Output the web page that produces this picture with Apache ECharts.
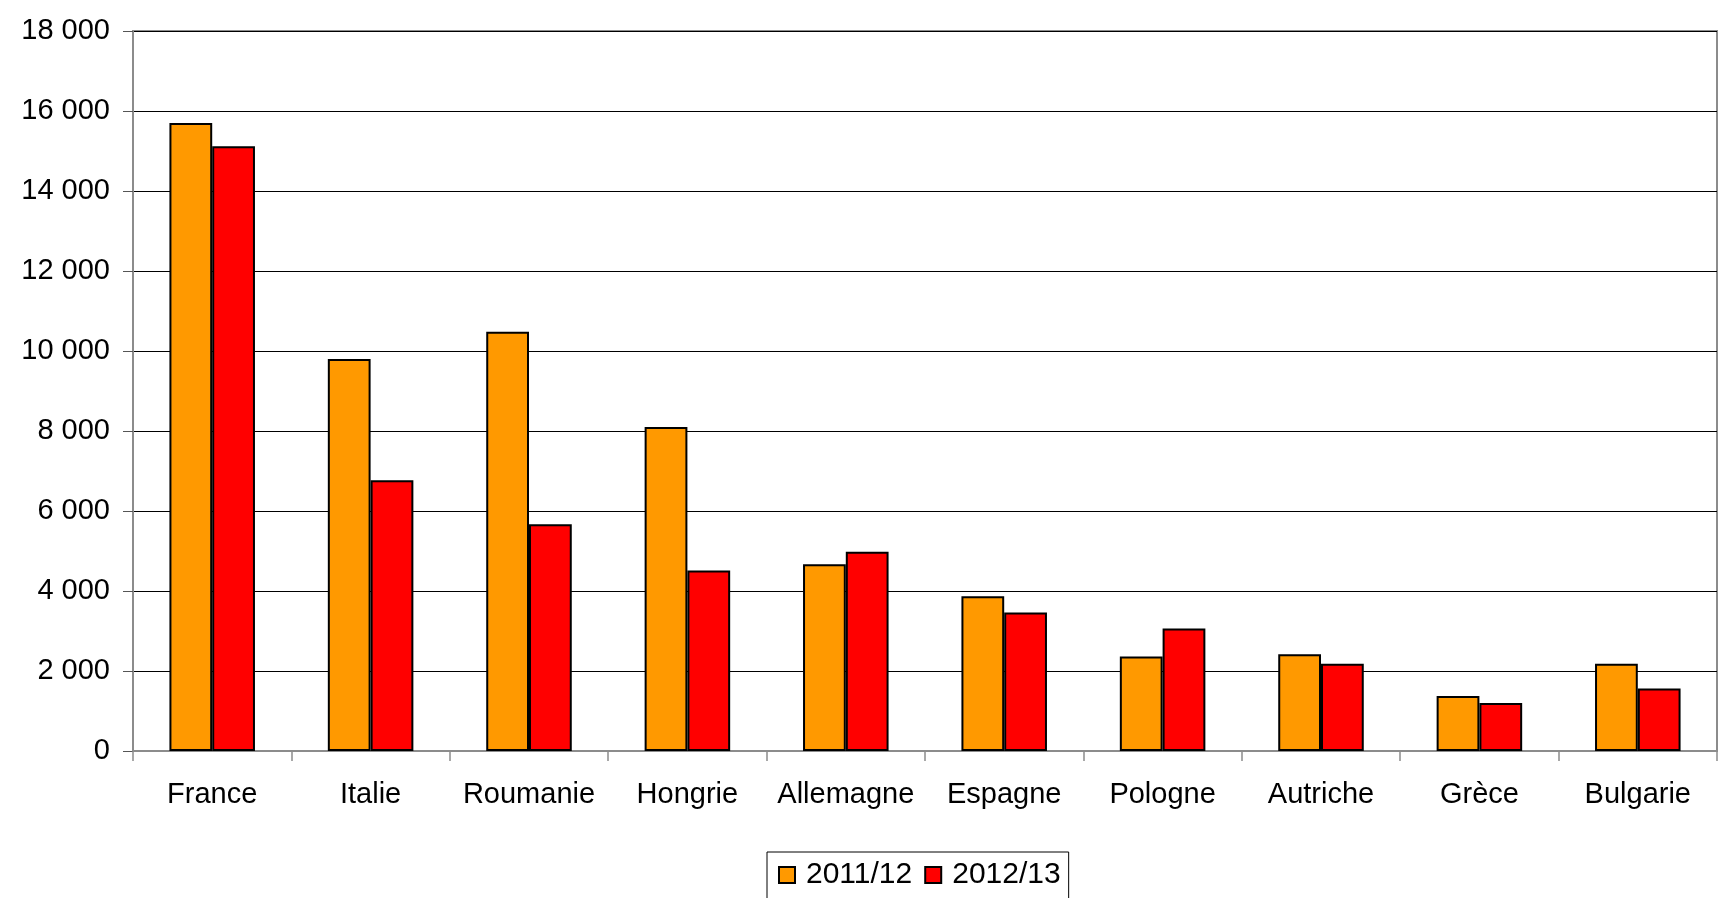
<!DOCTYPE html>
<html><head><meta charset="utf-8">
<script src="https://cdn.jsdelivr.net/npm/echarts@6/dist/echarts.min.js"></script>
<style>html,body{margin:0;padding:0;background:#fff}#c{width:1731px;height:898px}</style>
</head><body><div id="c"></div>
<script>
const categories = ['France','Italie','Roumanie','Hongrie','Allemagne','Espagne','Pologne','Autriche','Grèce','Bulgarie'];
const seriesNames = ['2011/12','2012/13'];
const values2011 = [15700, 9800, 10480, 8100, 4670, 3870, 2360, 2420, 1375, 2180];
const values2012 = [15120, 6770, 5670, 4510, 4980, 3460, 3060, 2180, 1200, 1560];
const yTickLabels = ['0','2 000','4 000','6 000','8 000','10 000','12 000','14 000','16 000','18 000'];

const font = '"Liberation Sans", Arial, sans-serif';
const chart = echarts.init(document.getElementById('c'));
chart.setOption({
  animation: false,
  backgroundColor: '#fff',
  grid: { left: 133, top: 31, right: 14, bottom: 147, show: true, borderColor: '#8c8c8c', borderWidth: 2, backgroundColor: 'transparent' },
  legend: {
    bottom: -20, left: 767,
    data: seriesNames,
    itemWidth: 16, itemHeight: 16, itemGap: 12,
    padding: [8, 8, 28, 11],
    borderColor: '#000', borderWidth: 1,
    textStyle: { fontFamily: font, fontSize: 30, color: '#000', padding: [0,0,0,6] },
    icon: 'rect'
  },
  xAxis: {
    type: 'category', data: categories,
    axisLine: { lineStyle: { color: '#8c8c8c', width: 2 } },
    axisTick: { show: true, length: 10, alignWithLabel: false, lineStyle: { color: '#8c8c8c', width: 1.5 } },
    axisLabel: { fontFamily: font, fontSize: 29, color: '#000', margin: 29, interval: 0 }
  },
  yAxis: {
    type: 'value', min: 0, max: 18000, interval: 2000,
    axisLine: { show: true, lineStyle: { color: '#8c8c8c', width: 2 } },
    axisTick: { show: true, length: 10, lineStyle: { color: '#555', width: 1 } },
    splitLine: { show: true, lineStyle: { color: '#000', width: 1 } },
    axisLabel: { fontFamily: font, fontSize: 29, color: '#000', margin: 23,
      formatter: v => yTickLabels[Math.round(v / 2000)] }
  },
  series: [
    { name: seriesNames[0], type: 'bar', data: values2011, barGap: '0%', barCategoryGap: '46%',
      itemStyle: { color: '#FF9900', borderColor: '#000', borderWidth: 2 } },
    { name: seriesNames[1], type: 'bar', data: values2012, barGap: '0%', barCategoryGap: '46%',
      itemStyle: { color: '#FF0000', borderColor: '#000', borderWidth: 2 } }
  ]
});
</script></body></html>
